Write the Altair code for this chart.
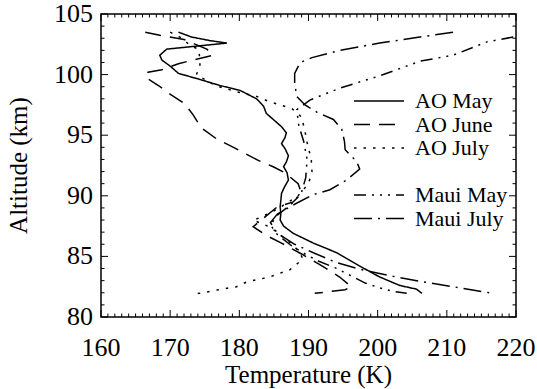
import altair as alt
import pandas as pd

# ---- data ----
series_names = ["AO May", "AO June", "AO July", " ", "Maui May", "Maui July"]

aomay_t = [171.2, 173.1, 175.8, 178.2, 169.5, 168.5, 168.8, 170.0, 171.2, 174.3, 177.2, 180.1, 182.5, 183.5,
           183.9, 184.9, 186.1, 186.8, 186.6, 186.1, 186.6, 187.1, 186.8, 186.4, 186.9, 187.1, 186.5, 186.1,
           186.0, 185.9, 186.0, 185.9, 186.4, 187.8, 190.7, 194.1, 197.4, 200.3, 203.2, 205.6, 206.4]
aomay_z = [103.5, 103.1, 102.8, 102.6, 102.1, 101.6, 101.2, 100.7, 100.1, 99.6, 99.1, 98.7, 98.0, 97.4,
           96.8, 96.3, 95.7, 95.2, 94.8, 94.3, 93.9, 93.3, 92.8, 92.4, 91.9, 91.3, 90.7, 90.2,
           89.6, 89.1, 88.5, 88.0, 87.5, 86.9, 86.1, 85.3, 84.2, 83.3, 82.6, 82.3, 81.95]

aojune_t = [166.4, 168.5, 172.0, 175.3, 176.2, 173.3, 171.2, 168.8, 166.8, 166.4, 168.3, 170.2, 172.1, 173.3,
            174.5, 176.7, 178.8, 180.8, 182.8, 184.9, 186.6, 188.5, 189.0, 187.8, 185.4, 182.0, 184.0, 186.1,
            189.0, 192.0, 194.5, 196.2, 195.3, 193.1, 190.9]
aojune_z = [103.5, 103.25, 102.9, 102.1, 101.6, 101.2, 100.9, 100.4, 100.2, 99.8, 99.1, 98.3, 97.6, 96.7,
            95.6, 94.7, 94.1, 93.5, 92.9, 92.4, 91.9, 91.0, 90.2, 89.5, 89.05, 87.45, 86.7, 86.1,
            85.2, 84.2, 83.3, 82.5, 82.25, 82.1, 81.95]

aojuly_t = [170.0, 171.7, 172.9, 174.1, 174.3, 174.3, 173.8, 176.5, 179.5, 182.5, 184.2, 187.6, 189.0, 189.5,
            189.8, 190.4, 190.5, 190.0, 188.5, 185.5, 183.0, 182.0, 184.5, 187.0, 188.5, 189.2, 188.8, 187.3,
            184.4, 181.1, 179.6, 176.5, 174.9, 173.1]
aojuly_z = [103.5, 103.0, 102.4, 102.1, 101.3, 100.7, 100.0, 99.1, 98.6, 98.2, 97.8, 97.2, 96.5, 95.3,
            94.4, 93.0, 92.0, 91.0, 90.0, 88.9, 88.2, 88.0, 87.4, 86.3, 85.5, 84.8, 84.6, 83.9,
            83.3, 82.9, 82.5, 82.2, 82.0, 81.9]

mauimay_t = [219.6, 215.8, 210.9, 206.1, 200.3, 194.6, 190.2, 188.3, 188.6, 189.3, 189.8, 189.6, 189.0, 187.5,
             185.5, 184.5, 185.5, 187.5, 189.5, 191.5, 194.1, 196.5, 198.2, 200.3, 202.3, 204.2]
mauimay_z = [103.1, 102.7, 101.6, 101.1, 99.9, 98.9, 97.9, 97.1, 95.8, 94.5, 93.0, 91.5, 90.3, 89.3,
             88.4, 87.6, 86.8, 85.9, 85.2, 84.6, 84.0, 83.3, 82.8, 82.4, 82.1, 81.95]

mauijuly_t = [210.9, 206.1, 200.3, 194.6, 190.5, 188.8, 188.0, 188.0, 188.3, 189.5, 191.2, 193.6, 194.8, 195.2,
              195.3, 197.0, 197.4, 195.5, 193.1, 190.7, 188.0, 185.5, 184.5, 185.5, 188.0, 190.7, 194.0, 197.0,
              199.4, 202.7, 206.6, 210.9, 216.7]
mauijuly_z = [103.5, 103.1, 102.6, 102.0, 101.4, 101.0, 100.1, 99.3, 98.2, 97.5, 96.9, 96.3, 95.5, 94.5,
              93.8, 92.8, 92.2, 91.3, 90.5, 90.1, 89.3, 88.5, 87.8, 86.9, 86.0, 85.3, 84.5, 84.0,
              83.7, 83.3, 82.9, 82.5, 81.95]

x_ticks = [160, 170, 180, 190, 200, 210, 220]
y_ticks = [80, 85, 90, 95, 100, 105]
x_title = "Temperature (K)"
y_title = "Altitude (km)"

# ---- build table ----
rows = []
for name, ts, zs in [("AO May", aomay_t, aomay_z), ("AO June", aojune_t, aojune_z),
                     ("AO July", aojuly_t, aojuly_z), ("Maui May", mauimay_t, mauimay_z),
                     ("Maui July", mauijuly_t, mauijuly_z)]:
    for i, (t, z) in enumerate(zip(ts, zs)):
        rows.append({"series": name, "T": t, "Alt": z, "idx": i})
df = pd.DataFrame(rows)

x_major = pd.DataFrame({"T": x_ticks})
x_minor = pd.DataFrame({"T": [v for v in range(161, 220) if v % 10 != 0]})
y_major = pd.DataFrame({"Alt": y_ticks})
y_minor = pd.DataFrame({"Alt": [v for v in range(81, 105) if v % 5 != 0]})

W, H = 415, 303
FONT = "Liberation Serif"
xs = alt.Scale(domain=[160, 220], nice=False, zero=False)
ys = alt.Scale(domain=[80, 105], nice=False, zero=False)

dashes = [[1, 0], [16, 9], [2.5, 7], [0, 1000], [12, 6, 2, 6, 2, 6, 2, 6], [18, 6, 2, 6]]

lines = alt.Chart(df).mark_line(color="black", strokeWidth=1.5, clip=True).encode(
    x=alt.X("T:Q", scale=xs, axis=None),
    y=alt.Y("Alt:Q", scale=ys, axis=None),
    strokeDash=alt.StrokeDash("series:N", scale=alt.Scale(domain=series_names, range=dashes),
                              legend=alt.Legend(
                                  orient="none", legendX=252, legendY=76, title=None,
                                  symbolType="M-1,0H4", symbolSize=400, symbolStrokeWidth=1.5,
                                  symbolStrokeColor="black", labelFont=FONT, labelFontSize=22,
                                  labelColor="black", labelOffset=40, rowPadding=1.5, padding=0)),
    order="idx:Q",
)

def hrules(data, y0, y1):
    return alt.Chart(data).mark_rule(color="black", strokeWidth=1).encode(
        x=alt.X("T:Q", scale=xs, axis=None), y=alt.value(y0), y2=alt.value(y1))

def vrules(data, x0, x1):
    return alt.Chart(data).mark_rule(color="black", strokeWidth=1).encode(
        y=alt.Y("Alt:Q", scale=ys, axis=None), x=alt.value(x0), x2=alt.value(x1))

MAJ, MIN = 7, 3.5
ticks = [
    hrules(x_major, H, H - MAJ), hrules(x_minor, H, H - MIN),
    hrules(x_major, 0, MAJ), hrules(x_minor, 0, MIN),
    vrules(y_major, 0, MAJ), vrules(y_minor, 0, MIN),
    vrules(y_major, W, W - MAJ), vrules(y_minor, W, W - MIN),
]

x_labels = alt.Chart(x_major).mark_text(
    font=FONT, fontSize=26, color="black", align="center", baseline="alphabetic"
).encode(x=alt.X("T:Q", scale=xs, axis=None), y=alt.value(H + 39), text=alt.Text("T:Q"))

y_labels = alt.Chart(y_major).mark_text(
    font=FONT, fontSize=26, color="black", align="right", baseline="middle"
).encode(y=alt.Y("Alt:Q", scale=ys, axis=None), x=alt.value(-8), text=alt.Text("Alt:Q"))

x_title_mark = alt.Chart(pd.DataFrame({"t": [x_title]})).mark_text(
    font=FONT, fontSize=25, color="black", align="center", baseline="alphabetic"
).encode(x=alt.value(W / 2), y=alt.value(H + 66), text="t:N")

y_title_mark = alt.Chart(pd.DataFrame({"t": [y_title]})).mark_text(
    font=FONT, fontSize=25, color="black", align="center", baseline="alphabetic", angle=270
).encode(x=alt.value(-74), y=alt.value(H / 2), text="t:N")

chart = alt.layer(lines, *ticks, x_labels, y_labels, x_title_mark, y_title_mark).properties(
    width=W, height=H,
    autosize=alt.AutoSizeParams(type="none"),
    padding={"left": 101, "top": 14, "right": 21, "bottom": 72},
    background="white",
).configure_view(stroke="black", strokeWidth=1.5)

chart.save("out.html", embed_options={"renderer": "svg", "actions": False})
